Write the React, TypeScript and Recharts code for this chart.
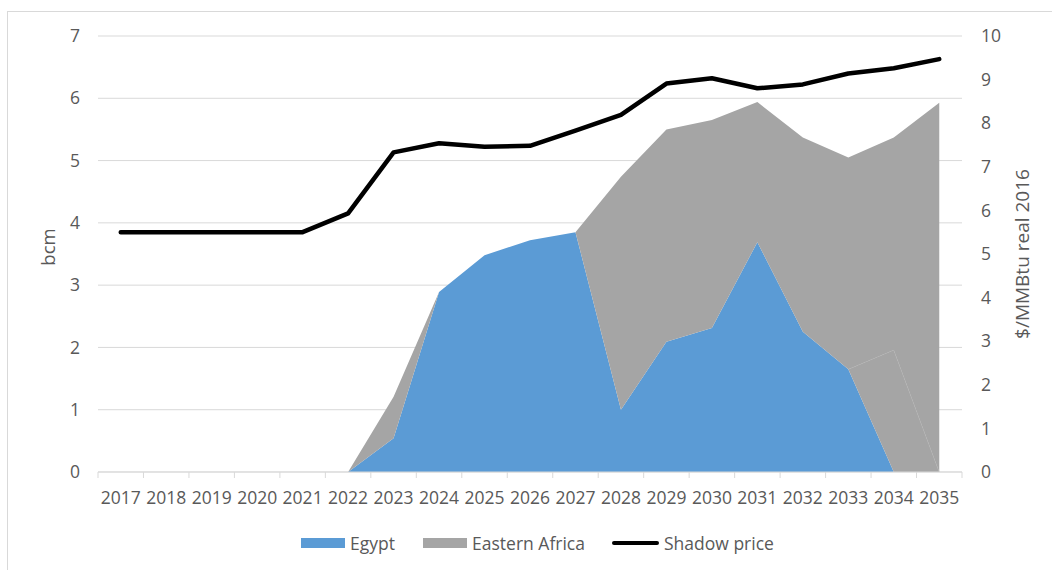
import React from "react";
import {
  ComposedChart,
  Area,
  Line,
  XAxis,
  YAxis,
  CartesianGrid,
  Legend,
} from "recharts";

const years = [
  "2017", "2018", "2019", "2020", "2021", "2022", "2023", "2024", "2025", "2026",
  "2027", "2028", "2029", "2030", "2031", "2032", "2033", "2034", "2035",
];
const egypt = [
  null, null, null, null, null, 0, 0.54, 2.89, 3.48, 3.72,
  3.85, 1.0, 2.09, 2.31, 3.69, 2.25, 1.65, 0, 0,
];
const easternAfricaSeam = [
  null, null, null, null, null, null, null, null, null, null,
  null, null, null, null, null, null, 0, 1.96, 0,
];
const easternAfrica = [
  null, null, null, null, null, 0, 0.67, 0, 0, 0,
  0, 3.74, 3.41, 3.34, 2.25, 3.12, 3.4, 3.41, 5.93,
];
const shadowPrice = [
  5.5, 5.5, 5.5, 5.5, 5.5, 5.93, 7.33, 7.54, 7.46, 7.48,
  7.83, 8.19, 8.91, 9.03, 8.8, 8.89, 9.14, 9.26, 9.47,
];
const leftTicks = [0, 1, 2, 3, 4, 5, 6, 7];
const rightTicks = [0, 1, 2, 3, 4, 5, 6, 7, 8, 9, 10];

const data = years.map((y, i) => ({
  year: y,
  egypt: egypt[i],
  eaSeam: easternAfricaSeam[i],
  ea: easternAfrica[i],
  price: shadowPrice[i],
}));

const W = 1052;
const H = 570;
const MARGIN = { top: 36, right: 9, left: 10, bottom: 12 };
const LEFT_W = 88;
const RIGHT_W = 81;
const PLOT_W = W - MARGIN.left - MARGIN.right - LEFT_W - RIGHT_W;
const BAND = PLOT_W / years.length;
const TICK_SIZE = 6;
const TICK_MARGIN = 14;
const FONT = "'Open Sans', Lato, sans-serif";
const TEXT = "#595959";
const GRID = "#d9d9d9";
const BLUE = "#5b9bd5";
const GREY = "#a5a5a5";

const XTick = (props: any) => {
  const { x, y, payload, index } = props;
  const axisY = y - TICK_SIZE - TICK_MARGIN;
  const last = index === years.length - 1;
  return (
    <g>
      <line x1={x - BAND / 2} x2={x - BAND / 2} y1={axisY} y2={axisY + 6} stroke={GRID} strokeWidth={1} />
      {last && (
        <line x1={x + BAND / 2} x2={x + BAND / 2} y1={axisY} y2={axisY + 6} stroke={GRID} strokeWidth={1} />
      )}
      <text x={x} y={y} dy="0.71em" textAnchor="middle" fill={TEXT} fontSize={17.5} fontFamily={FONT}>
        {payload.value}
      </text>
    </g>
  );
};

const LegendContent = () => {
  const item = (swatch: React.ReactNode, label: string, mr: number) => (
    <div style={{ display: "flex", alignItems: "center", marginRight: mr }}>
      {swatch}
      <span style={{ marginLeft: 5, color: TEXT, fontSize: 17.5, fontFamily: FONT }}>{label}</span>
    </div>
  );
  return (
    <div
      style={{
        height: 30,
        display: "flex",
        alignItems: "center",
        justifyContent: "center",
        paddingLeft: 22,
      }}
    >
      {item(<div style={{ width: 44, height: 10, background: BLUE }} />, "Egypt", 28)}
      {item(<div style={{ width: 44, height: 10, background: GREY }} />, "Eastern Africa", 27)}
      {item(<div style={{ width: 47, height: 4.5, background: "#000", borderRadius: 2.5 }} />, "Shadow price", 0)}
    </div>
  );
};

export default function App() {
  return (
    <div style={{ position: "absolute", left: 0, top: 0, width: W, height: H, background: "#fff" }}>
      <div
        style={{
          position: "absolute",
          left: 7,
          top: 11,
          width: W - 7,
          height: H - 11,
          borderLeft: `1px solid ${GRID}`,
          borderTop: `1px solid ${GRID}`,
          boxSizing: "border-box",
          pointerEvents: "none",
        }}
      />
      <div style={{ position: "absolute", left: 0, top: 0 }}>
        <ComposedChart width={W} height={H} data={data} margin={MARGIN}>
          <CartesianGrid yAxisId="left" vertical={false} stroke={GRID} strokeWidth={1} />
          <XAxis
            dataKey="year"
            scale="band"
            height={56}
            axisLine={{ stroke: GRID }}
            tickLine={false}
            tickSize={TICK_SIZE}
            tickMargin={TICK_MARGIN}
            interval={0}
            tick={<XTick />}
          />
          <YAxis
            yAxisId="left"
            width={LEFT_W}
            domain={[0, 7]}
            ticks={leftTicks}
            axisLine={false}
            tickLine={false}
            tickSize={TICK_SIZE}
            tickMargin={12}
            tick={{ fill: TEXT, fontSize: 17.5, fontFamily: FONT }}
            label={{
              content: () => (
                <text
                  x={47}
                  y={247}
                  transform="rotate(-90 47 247)"
                  textAnchor="middle"
                  dominantBaseline="central"
                  fill={TEXT}
                  fontSize={18.5}
                  fontFamily={FONT}
                >
                  bcm
                </text>
              ),
            }}
          />
          <YAxis
            yAxisId="right"
            orientation="right"
            width={RIGHT_W}
            domain={[0, 10]}
            ticks={rightTicks}
            axisLine={false}
            tickLine={false}
            tickSize={TICK_SIZE}
            tickMargin={13}
            tick={{ fill: TEXT, fontSize: 17.5, fontFamily: FONT }}
            label={{
              content: () => (
                <text
                  x={1022}
                  y={254}
                  transform="rotate(-90 1022 254)"
                  textAnchor="middle"
                  dominantBaseline="central"
                  fill={TEXT}
                  fontSize={19}
                  fontFamily={FONT}
                >
                  $/MMBtu real 2016
                </text>
              ),
            }}
          />
          <Area
            yAxisId="left"
            dataKey="egypt"
            name="Egypt"
            stackId="a"
            type="linear"
            fill={BLUE}
            fillOpacity={1}
            stroke="none"
            isAnimationActive={false}
          />
          <Area
            yAxisId="left"
            dataKey="eaSeam"
            name="Eastern Africa (part)"
            stackId="a"
            type="linear"
            fill={GREY}
            fillOpacity={1}
            stroke="#b9b9b9"
            strokeWidth={0.6}
            legendType="none"
            isAnimationActive={false}
          />
          <Area
            yAxisId="left"
            dataKey="ea"
            name="Eastern Africa"
            stackId="a"
            type="linear"
            fill={GREY}
            fillOpacity={1}
            stroke="none"
            isAnimationActive={false}
          />
          <Line
            yAxisId="right"
            dataKey="price"
            name="Shadow price"
            type="linear"
            stroke="#000"
            strokeWidth={4.5}
            strokeLinejoin="round"
            strokeLinecap="round"
            dot={false}
            isAnimationActive={false}
          />
          <Legend verticalAlign="bottom" content={<LegendContent />} />
        </ComposedChart>
      </div>
    </div>
  );
}
